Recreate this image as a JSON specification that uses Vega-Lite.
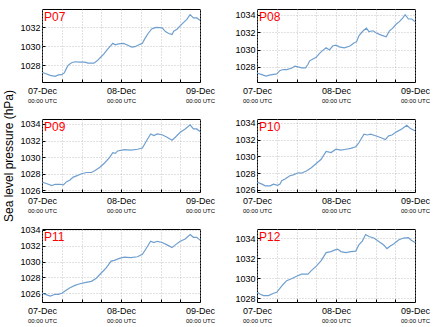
{
"$schema": "https://vega.github.io/schema/vega-lite/v6.json",
"padding": {"left": 2, "top": 8, "right": 0, "bottom": 0},
"autosize": {"type": "pad"},
"config": {
  "font": "Liberation Sans",
  "view": {"stroke": "#000", "strokeWidth": 1},
  "axis": {"labelFont": "Liberation Sans", "labelFontSize": 9, "labelColor": "#000", "grid": true, "gridColor": "#b4b4b4", "gridDash": [1, 2], "gridWidth": 0.8, "tickColor": "#000", "tickSize": -3, "domain": false, "labelFlush": false, "labelBound": false, "labelOverlap": false, "titleFont": "Liberation Sans", "titleFontSize": 12, "titleFontWeight": "normal", "titleColor": "#000"},
  "axisY": {"labelPadding": 5, "format": "d"},
  "axisX": {"labelPadding": 7},
  "text": {"align": "left", "baseline": "alphabetic", "dx": 2, "dy": 12, "color": "#ff0000", "fontSize": 12, "font": "Liberation Sans"},
  "line": {"color": "#6f9fcf", "strokeWidth": 1.2}
},
"datasets": {"pres": [
{"s":"P07","t":"2013-12-07T00:00Z","p":1027.24},{"s":"P07","t":"2013-12-07T01:00Z","p":1027.1},{"s":"P07","t":"2013-12-07T02:30Z","p":1026.9},{"s":"P07","t":"2013-12-07T04:00Z","p":1026.8},{"s":"P07","t":"2013-12-07T05:00Z","p":1026.95},{"s":"P07","t":"2013-12-07T06:00Z","p":1026.98},{"s":"P07","t":"2013-12-07T06:45Z","p":1027.16},{"s":"P07","t":"2013-12-07T07:30Z","p":1027.7},{"s":"P07","t":"2013-12-07T08:00Z","p":1028.0},{"s":"P07","t":"2013-12-07T09:00Z","p":1028.25},{"s":"P07","t":"2013-12-07T10:00Z","p":1028.35},{"s":"P07","t":"2013-12-07T11:30Z","p":1028.3},{"s":"P07","t":"2013-12-07T13:00Z","p":1028.3},{"s":"P07","t":"2013-12-07T14:00Z","p":1028.2},{"s":"P07","t":"2013-12-07T15:45Z","p":1028.2},{"s":"P07","t":"2013-12-07T16:45Z","p":1028.45},{"s":"P07","t":"2013-12-07T17:45Z","p":1028.8},{"s":"P07","t":"2013-12-07T18:45Z","p":1029.15},{"s":"P07","t":"2013-12-07T19:45Z","p":1029.6},{"s":"P07","t":"2013-12-07T20:45Z","p":1030.0},{"s":"P07","t":"2013-12-07T21:30Z","p":1030.3},{"s":"P07","t":"2013-12-07T22:15Z","p":1030.15},{"s":"P07","t":"2013-12-07T23:15Z","p":1030.25},{"s":"P07","t":"2013-12-08T00:45Z","p":1030.3},{"s":"P07","t":"2013-12-08T01:45Z","p":1030.15},{"s":"P07","t":"2013-12-08T03:15Z","p":1029.9},{"s":"P07","t":"2013-12-08T04:15Z","p":1029.95},{"s":"P07","t":"2013-12-08T05:45Z","p":1030.2},{"s":"P07","t":"2013-12-08T06:30Z","p":1030.3},{"s":"P07","t":"2013-12-08T07:15Z","p":1030.8},{"s":"P07","t":"2013-12-08T08:15Z","p":1031.35},{"s":"P07","t":"2013-12-08T09:15Z","p":1031.8},{"s":"P07","t":"2013-12-08T09:45Z","p":1031.9},{"s":"P07","t":"2013-12-08T10:45Z","p":1032.0},{"s":"P07","t":"2013-12-08T12:30Z","p":1031.95},{"s":"P07","t":"2013-12-08T13:30Z","p":1031.55},{"s":"P07","t":"2013-12-08T14:30Z","p":1031.35},{"s":"P07","t":"2013-12-08T15:30Z","p":1031.25},{"s":"P07","t":"2013-12-08T16:00Z","p":1031.6},{"s":"P07","t":"2013-12-08T17:00Z","p":1031.8},{"s":"P07","t":"2013-12-08T18:30Z","p":1032.35},{"s":"P07","t":"2013-12-08T20:00Z","p":1032.85},{"s":"P07","t":"2013-12-08T21:00Z","p":1033.35},{"s":"P07","t":"2013-12-08T22:00Z","p":1033.0},{"s":"P07","t":"2013-12-08T23:00Z","p":1033.0},{"s":"P07","t":"2013-12-09T00:00Z","p":1032.75},
{"s":"P08","t":"2013-12-07T00:00Z","p":1027.3},{"s":"P08","t":"2013-12-07T01:15Z","p":1027.15},{"s":"P08","t":"2013-12-07T02:45Z","p":1026.95},{"s":"P08","t":"2013-12-07T03:45Z","p":1027.05},{"s":"P08","t":"2013-12-07T05:00Z","p":1027.15},{"s":"P08","t":"2013-12-07T06:00Z","p":1027.2},{"s":"P08","t":"2013-12-07T07:00Z","p":1027.6},{"s":"P08","t":"2013-12-07T08:00Z","p":1027.7},{"s":"P08","t":"2013-12-07T09:00Z","p":1027.7},{"s":"P08","t":"2013-12-07T10:30Z","p":1027.85},{"s":"P08","t":"2013-12-07T11:30Z","p":1028.1},{"s":"P08","t":"2013-12-07T12:30Z","p":1028.0},{"s":"P08","t":"2013-12-07T13:30Z","p":1027.9},{"s":"P08","t":"2013-12-07T14:45Z","p":1027.9},{"s":"P08","t":"2013-12-07T15:30Z","p":1028.3},{"s":"P08","t":"2013-12-07T16:00Z","p":1028.7},{"s":"P08","t":"2013-12-07T17:00Z","p":1028.9},{"s":"P08","t":"2013-12-07T18:00Z","p":1029.1},{"s":"P08","t":"2013-12-07T19:00Z","p":1029.55},{"s":"P08","t":"2013-12-07T20:00Z","p":1029.9},{"s":"P08","t":"2013-12-07T21:00Z","p":1030.2},{"s":"P08","t":"2013-12-07T22:00Z","p":1029.95},{"s":"P08","t":"2013-12-07T23:00Z","p":1030.4},{"s":"P08","t":"2013-12-08T00:00Z","p":1030.5},{"s":"P08","t":"2013-12-08T01:00Z","p":1030.3},{"s":"P08","t":"2013-12-08T02:30Z","p":1030.2},{"s":"P08","t":"2013-12-08T04:15Z","p":1030.4},{"s":"P08","t":"2013-12-08T05:15Z","p":1030.7},{"s":"P08","t":"2013-12-08T06:15Z","p":1030.9},{"s":"P08","t":"2013-12-08T07:00Z","p":1031.6},{"s":"P08","t":"2013-12-08T08:15Z","p":1032.15},{"s":"P08","t":"2013-12-08T09:15Z","p":1032.45},{"s":"P08","t":"2013-12-08T10:00Z","p":1032.05},{"s":"P08","t":"2013-12-08T11:15Z","p":1032.15},{"s":"P08","t":"2013-12-08T12:15Z","p":1031.9},{"s":"P08","t":"2013-12-08T13:45Z","p":1031.65},{"s":"P08","t":"2013-12-08T15:15Z","p":1031.45},{"s":"P08","t":"2013-12-08T16:15Z","p":1032.15},{"s":"P08","t":"2013-12-08T17:15Z","p":1032.45},{"s":"P08","t":"2013-12-08T18:15Z","p":1032.9},{"s":"P08","t":"2013-12-08T19:15Z","p":1033.2},{"s":"P08","t":"2013-12-08T20:15Z","p":1033.6},{"s":"P08","t":"2013-12-08T21:00Z","p":1034.0},{"s":"P08","t":"2013-12-08T22:00Z","p":1033.5},{"s":"P08","t":"2013-12-08T23:00Z","p":1033.5},{"s":"P08","t":"2013-12-09T00:00Z","p":1033.2},
{"s":"P09","t":"2013-12-07T00:00Z","p":1027.0},{"s":"P09","t":"2013-12-07T01:30Z","p":1026.8},{"s":"P09","t":"2013-12-07T03:00Z","p":1026.57},{"s":"P09","t":"2013-12-07T04:00Z","p":1026.73},{"s":"P09","t":"2013-12-07T05:30Z","p":1026.73},{"s":"P09","t":"2013-12-07T06:30Z","p":1026.65},{"s":"P09","t":"2013-12-07T07:30Z","p":1027.05},{"s":"P09","t":"2013-12-07T08:30Z","p":1027.25},{"s":"P09","t":"2013-12-07T09:30Z","p":1027.6},{"s":"P09","t":"2013-12-07T10:30Z","p":1027.75},{"s":"P09","t":"2013-12-07T12:00Z","p":1028.0},{"s":"P09","t":"2013-12-07T13:30Z","p":1028.15},{"s":"P09","t":"2013-12-07T15:00Z","p":1028.15},{"s":"P09","t":"2013-12-07T16:00Z","p":1028.35},{"s":"P09","t":"2013-12-07T17:30Z","p":1028.75},{"s":"P09","t":"2013-12-07T19:00Z","p":1029.3},{"s":"P09","t":"2013-12-07T20:30Z","p":1029.95},{"s":"P09","t":"2013-12-07T21:30Z","p":1030.55},{"s":"P09","t":"2013-12-07T22:15Z","p":1030.45},{"s":"P09","t":"2013-12-07T23:00Z","p":1030.75},{"s":"P09","t":"2013-12-08T01:00Z","p":1030.9},{"s":"P09","t":"2013-12-08T03:00Z","p":1030.85},{"s":"P09","t":"2013-12-08T05:00Z","p":1030.95},{"s":"P09","t":"2013-12-08T06:30Z","p":1031.1},{"s":"P09","t":"2013-12-08T07:30Z","p":1031.8},{"s":"P09","t":"2013-12-08T09:00Z","p":1032.8},{"s":"P09","t":"2013-12-08T10:00Z","p":1032.6},{"s":"P09","t":"2013-12-08T11:00Z","p":1032.8},{"s":"P09","t":"2013-12-08T12:30Z","p":1032.7},{"s":"P09","t":"2013-12-08T14:00Z","p":1032.4},{"s":"P09","t":"2013-12-08T15:30Z","p":1032.05},{"s":"P09","t":"2013-12-08T16:30Z","p":1032.4},{"s":"P09","t":"2013-12-08T18:00Z","p":1033.0},{"s":"P09","t":"2013-12-08T19:30Z","p":1033.4},{"s":"P09","t":"2013-12-08T21:00Z","p":1033.9},{"s":"P09","t":"2013-12-08T22:00Z","p":1033.4},{"s":"P09","t":"2013-12-08T23:00Z","p":1033.4},{"s":"P09","t":"2013-12-09T00:00Z","p":1033.1},
{"s":"P10","t":"2013-12-07T00:00Z","p":1026.95},{"s":"P10","t":"2013-12-07T01:30Z","p":1026.7},{"s":"P10","t":"2013-12-07T02:30Z","p":1026.5},{"s":"P10","t":"2013-12-07T04:00Z","p":1026.5},{"s":"P10","t":"2013-12-07T05:00Z","p":1026.7},{"s":"P10","t":"2013-12-07T06:15Z","p":1026.55},{"s":"P10","t":"2013-12-07T07:00Z","p":1026.7},{"s":"P10","t":"2013-12-07T07:30Z","p":1027.1},{"s":"P10","t":"2013-12-07T08:30Z","p":1027.3},{"s":"P10","t":"2013-12-07T10:00Z","p":1027.7},{"s":"P10","t":"2013-12-07T11:00Z","p":1027.8},{"s":"P10","t":"2013-12-07T12:30Z","p":1028.05},{"s":"P10","t":"2013-12-07T13:30Z","p":1028.0},{"s":"P10","t":"2013-12-07T15:00Z","p":1028.25},{"s":"P10","t":"2013-12-07T16:30Z","p":1028.65},{"s":"P10","t":"2013-12-07T18:00Z","p":1029.15},{"s":"P10","t":"2013-12-07T19:30Z","p":1029.65},{"s":"P10","t":"2013-12-07T21:00Z","p":1030.6},{"s":"P10","t":"2013-12-07T22:30Z","p":1030.45},{"s":"P10","t":"2013-12-08T00:00Z","p":1030.85},{"s":"P10","t":"2013-12-08T01:30Z","p":1030.75},{"s":"P10","t":"2013-12-08T03:00Z","p":1030.85},{"s":"P10","t":"2013-12-08T04:30Z","p":1030.95},{"s":"P10","t":"2013-12-08T06:00Z","p":1031.15},{"s":"P10","t":"2013-12-08T07:00Z","p":1031.65},{"s":"P10","t":"2013-12-08T08:30Z","p":1032.65},{"s":"P10","t":"2013-12-08T09:30Z","p":1032.55},{"s":"P10","t":"2013-12-08T10:30Z","p":1032.65},{"s":"P10","t":"2013-12-08T12:00Z","p":1032.45},{"s":"P10","t":"2013-12-08T13:30Z","p":1032.25},{"s":"P10","t":"2013-12-08T15:00Z","p":1032.0},{"s":"P10","t":"2013-12-08T16:00Z","p":1032.45},{"s":"P10","t":"2013-12-08T17:00Z","p":1032.55},{"s":"P10","t":"2013-12-08T18:30Z","p":1032.95},{"s":"P10","t":"2013-12-08T20:00Z","p":1033.25},{"s":"P10","t":"2013-12-08T21:30Z","p":1033.7},{"s":"P10","t":"2013-12-08T22:30Z","p":1033.35},{"s":"P10","t":"2013-12-08T23:30Z","p":1033.15},{"s":"P10","t":"2013-12-09T00:00Z","p":1033.05},
{"s":"P11","t":"2013-12-07T00:00Z","p":1026.0},{"s":"P11","t":"2013-12-07T01:30Z","p":1025.8},{"s":"P11","t":"2013-12-07T02:30Z","p":1025.65},{"s":"P11","t":"2013-12-07T04:00Z","p":1025.87},{"s":"P11","t":"2013-12-07T05:00Z","p":1025.87},{"s":"P11","t":"2013-12-07T06:00Z","p":1026.0},{"s":"P11","t":"2013-12-07T07:00Z","p":1026.3},{"s":"P11","t":"2013-12-07T08:30Z","p":1026.7},{"s":"P11","t":"2013-12-07T10:00Z","p":1027.0},{"s":"P11","t":"2013-12-07T11:30Z","p":1027.2},{"s":"P11","t":"2013-12-07T13:00Z","p":1027.35},{"s":"P11","t":"2013-12-07T15:00Z","p":1027.5},{"s":"P11","t":"2013-12-07T16:30Z","p":1027.9},{"s":"P11","t":"2013-12-07T18:00Z","p":1028.55},{"s":"P11","t":"2013-12-07T19:30Z","p":1029.2},{"s":"P11","t":"2013-12-07T21:00Z","p":1030.05},{"s":"P11","t":"2013-12-07T22:00Z","p":1030.15},{"s":"P11","t":"2013-12-07T23:30Z","p":1030.4},{"s":"P11","t":"2013-12-08T01:00Z","p":1030.55},{"s":"P11","t":"2013-12-08T03:00Z","p":1030.5},{"s":"P11","t":"2013-12-08T05:00Z","p":1030.6},{"s":"P11","t":"2013-12-08T06:30Z","p":1030.9},{"s":"P11","t":"2013-12-08T07:30Z","p":1031.55},{"s":"P11","t":"2013-12-08T09:00Z","p":1032.55},{"s":"P11","t":"2013-12-08T10:00Z","p":1032.4},{"s":"P11","t":"2013-12-08T11:00Z","p":1032.55},{"s":"P11","t":"2013-12-08T12:30Z","p":1032.4},{"s":"P11","t":"2013-12-08T14:00Z","p":1032.1},{"s":"P11","t":"2013-12-08T15:30Z","p":1031.75},{"s":"P11","t":"2013-12-08T16:30Z","p":1032.1},{"s":"P11","t":"2013-12-08T18:00Z","p":1032.55},{"s":"P11","t":"2013-12-08T19:30Z","p":1032.85},{"s":"P11","t":"2013-12-08T21:00Z","p":1033.4},{"s":"P11","t":"2013-12-08T22:00Z","p":1033.05},{"s":"P11","t":"2013-12-08T23:00Z","p":1033.05},{"s":"P11","t":"2013-12-09T00:00Z","p":1032.7},
{"s":"P12","t":"2013-12-07T00:00Z","p":1028.6},{"s":"P12","t":"2013-12-07T01:00Z","p":1028.4},{"s":"P12","t":"2013-12-07T02:00Z","p":1028.27},{"s":"P12","t":"2013-12-07T03:30Z","p":1028.27},{"s":"P12","t":"2013-12-07T05:00Z","p":1028.5},{"s":"P12","t":"2013-12-07T06:00Z","p":1028.6},{"s":"P12","t":"2013-12-07T07:00Z","p":1029.0},{"s":"P12","t":"2013-12-07T08:00Z","p":1029.4},{"s":"P12","t":"2013-12-07T09:00Z","p":1029.75},{"s":"P12","t":"2013-12-07T10:30Z","p":1029.95},{"s":"P12","t":"2013-12-07T12:00Z","p":1030.2},{"s":"P12","t":"2013-12-07T13:30Z","p":1030.4},{"s":"P12","t":"2013-12-07T15:30Z","p":1030.4},{"s":"P12","t":"2013-12-07T16:30Z","p":1030.75},{"s":"P12","t":"2013-12-07T18:00Z","p":1031.2},{"s":"P12","t":"2013-12-07T19:30Z","p":1031.75},{"s":"P12","t":"2013-12-07T21:00Z","p":1032.55},{"s":"P12","t":"2013-12-07T22:30Z","p":1032.65},{"s":"P12","t":"2013-12-07T23:30Z","p":1032.8},{"s":"P12","t":"2013-12-08T00:30Z","p":1032.9},{"s":"P12","t":"2013-12-08T01:30Z","p":1032.65},{"s":"P12","t":"2013-12-08T03:00Z","p":1032.55},{"s":"P12","t":"2013-12-08T04:30Z","p":1032.65},{"s":"P12","t":"2013-12-08T06:00Z","p":1032.7},{"s":"P12","t":"2013-12-08T07:00Z","p":1033.35},{"s":"P12","t":"2013-12-08T08:00Z","p":1033.7},{"s":"P12","t":"2013-12-08T09:00Z","p":1034.35},{"s":"P12","t":"2013-12-08T10:00Z","p":1034.15},{"s":"P12","t":"2013-12-08T11:30Z","p":1034.0},{"s":"P12","t":"2013-12-08T13:00Z","p":1033.65},{"s":"P12","t":"2013-12-08T14:30Z","p":1033.3},{"s":"P12","t":"2013-12-08T15:30Z","p":1032.95},{"s":"P12","t":"2013-12-08T16:30Z","p":1033.2},{"s":"P12","t":"2013-12-08T17:30Z","p":1033.4},{"s":"P12","t":"2013-12-08T19:00Z","p":1033.8},{"s":"P12","t":"2013-12-08T20:30Z","p":1034.0},{"s":"P12","t":"2013-12-08T22:00Z","p":1034.05},{"s":"P12","t":"2013-12-08T22:45Z","p":1033.8},{"s":"P12","t":"2013-12-09T00:00Z","p":1033.55}
]},
"columns": 2,
"spacing": {"row": 37, "column": 57},
"bounds": "flush",
"concat": [
{"width": 158, "height": 73, "data": {"name": "pres"}, "transform": [{"filter": "datum.s === 'P07'"}],
 "layer": [
  {"mark": "line",
   "encoding": {
    "x": {"field": "t", "type": "temporal", "scale": {"type": "utc", "domain": [{"year": 2013, "month": 12, "date": 7, "utc": true}, {"year": 2013, "month": 12, "date": 9, "utc": true}]},
     "axis": {"title": null, "orient": "bottom", "values": [{"year": 2013, "month": 12, "date": 7, "hours": 0, "utc": true}, {"year": 2013, "month": 12, "date": 7, "hours": 6, "utc": true}, {"year": 2013, "month": 12, "date": 7, "hours": 12, "utc": true}, {"year": 2013, "month": 12, "date": 7, "hours": 18, "utc": true}, {"year": 2013, "month": 12, "date": 8, "hours": 0, "utc": true}, {"year": 2013, "month": 12, "date": 8, "hours": 6, "utc": true}, {"year": 2013, "month": 12, "date": 8, "hours": 12, "utc": true}, {"year": 2013, "month": 12, "date": 8, "hours": 18, "utc": true}, {"year": 2013, "month": 12, "date": 9, "hours": 0, "utc": true}], "labelExpr": "utchours(datum.value) === 0 ? utcFormat(datum.value, '%d-%b') : ''"}},
    "y": {"field": "p", "type": "quantitative", "scale": {"domain": [1026.2, 1033.95], "nice": false, "zero": false}, "axis": {"title": null, "values": [1028, 1030, 1032]}}}},
  {"mark": {"type": "rule", "opacity": 0},
   "encoding": {"x": {"field": "t", "type": "temporal", "scale": {"type": "utc", "domain": [{"year": 2013, "month": 12, "date": 7, "utc": true}, {"year": 2013, "month": 12, "date": 9, "utc": true}]},
     "axis": {"title": null, "orient": "bottom", "grid": false, "ticks": false, "labelFontSize": 6, "labelPadding": 15, "values": [{"year": 2013, "month": 12, "date": 7, "utc": true}, {"year": 2013, "month": 12, "date": 8, "utc": true}, {"year": 2013, "month": 12, "date": 9, "utc": true}], "labelExpr": "utcFormat(datum.value, '%H:%M') + ' UTC'"}}}},
  {"transform": [{"aggregate": [{"op": "count", "as": "n"}], "groupby": ["s"]}],
   "mark": "text",
   "encoding": {"x": {"datum": {"year": 2013, "month": 12, "date": 7, "utc": true}, "type": "temporal", "axis": null}, "y": {"datum": 1033.95, "type": "quantitative", "axis": null}, "text": {"field": "s"}}}
 ],
 "resolve": {"axis": {"x": "independent", "y": "independent"}}},
{"width": 158, "height": 73, "data": {"name": "pres"}, "transform": [{"filter": "datum.s === 'P08'"}],
 "layer": [
  {"mark": "line",
   "encoding": {
    "x": {"field": "t", "type": "temporal", "scale": {"type": "utc", "domain": [{"year": 2013, "month": 12, "date": 7, "utc": true}, {"year": 2013, "month": 12, "date": 9, "utc": true}]},
     "axis": {"title": null, "orient": "bottom", "values": [{"year": 2013, "month": 12, "date": 7, "hours": 0, "utc": true}, {"year": 2013, "month": 12, "date": 7, "hours": 6, "utc": true}, {"year": 2013, "month": 12, "date": 7, "hours": 12, "utc": true}, {"year": 2013, "month": 12, "date": 7, "hours": 18, "utc": true}, {"year": 2013, "month": 12, "date": 8, "hours": 0, "utc": true}, {"year": 2013, "month": 12, "date": 8, "hours": 6, "utc": true}, {"year": 2013, "month": 12, "date": 8, "hours": 12, "utc": true}, {"year": 2013, "month": 12, "date": 8, "hours": 18, "utc": true}, {"year": 2013, "month": 12, "date": 9, "hours": 0, "utc": true}], "labelExpr": "utchours(datum.value) === 0 ? utcFormat(datum.value, '%d-%b') : ''"}},
    "y": {"field": "p", "type": "quantitative", "scale": {"domain": [1026.27, 1034.65], "nice": false, "zero": false}, "axis": {"title": null, "values": [1028, 1030, 1032, 1034]}}}},
  {"mark": {"type": "rule", "opacity": 0},
   "encoding": {"x": {"field": "t", "type": "temporal", "scale": {"type": "utc", "domain": [{"year": 2013, "month": 12, "date": 7, "utc": true}, {"year": 2013, "month": 12, "date": 9, "utc": true}]},
     "axis": {"title": null, "orient": "bottom", "grid": false, "ticks": false, "labelFontSize": 6, "labelPadding": 15, "values": [{"year": 2013, "month": 12, "date": 7, "utc": true}, {"year": 2013, "month": 12, "date": 8, "utc": true}, {"year": 2013, "month": 12, "date": 9, "utc": true}], "labelExpr": "utcFormat(datum.value, '%H:%M') + ' UTC'"}}}},
  {"transform": [{"aggregate": [{"op": "count", "as": "n"}], "groupby": ["s"]}],
   "mark": "text",
   "encoding": {"x": {"datum": {"year": 2013, "month": 12, "date": 7, "utc": true}, "type": "temporal", "axis": null}, "y": {"datum": 1034.65, "type": "quantitative", "axis": null}, "text": {"field": "s"}}}
 ],
 "resolve": {"axis": {"x": "independent", "y": "independent"}}},
{"width": 158, "height": 73, "data": {"name": "pres"}, "transform": [{"filter": "datum.s === 'P09'"}],
 "layer": [
  {"mark": "line",
   "encoding": {
    "x": {"field": "t", "type": "temporal", "scale": {"type": "utc", "domain": [{"year": 2013, "month": 12, "date": 7, "utc": true}, {"year": 2013, "month": 12, "date": 9, "utc": true}]},
     "axis": {"title": null, "orient": "bottom", "values": [{"year": 2013, "month": 12, "date": 7, "hours": 0, "utc": true}, {"year": 2013, "month": 12, "date": 7, "hours": 6, "utc": true}, {"year": 2013, "month": 12, "date": 7, "hours": 12, "utc": true}, {"year": 2013, "month": 12, "date": 7, "hours": 18, "utc": true}, {"year": 2013, "month": 12, "date": 8, "hours": 0, "utc": true}, {"year": 2013, "month": 12, "date": 8, "hours": 6, "utc": true}, {"year": 2013, "month": 12, "date": 8, "hours": 12, "utc": true}, {"year": 2013, "month": 12, "date": 8, "hours": 18, "utc": true}, {"year": 2013, "month": 12, "date": 9, "hours": 0, "utc": true}], "labelExpr": "utchours(datum.value) === 0 ? utcFormat(datum.value, '%d-%b') : ''"}},
    "y": {"field": "p", "type": "quantitative", "scale": {"domain": [1025.8, 1034.6], "nice": false, "zero": false}, "axis": {"title": "Sea level pressure (hPa)", "titlePadding": 4, "values": [1026, 1028, 1030, 1032, 1034]}}}},
  {"mark": {"type": "rule", "opacity": 0},
   "encoding": {"x": {"field": "t", "type": "temporal", "scale": {"type": "utc", "domain": [{"year": 2013, "month": 12, "date": 7, "utc": true}, {"year": 2013, "month": 12, "date": 9, "utc": true}]},
     "axis": {"title": null, "orient": "bottom", "grid": false, "ticks": false, "labelFontSize": 6, "labelPadding": 15, "values": [{"year": 2013, "month": 12, "date": 7, "utc": true}, {"year": 2013, "month": 12, "date": 8, "utc": true}, {"year": 2013, "month": 12, "date": 9, "utc": true}], "labelExpr": "utcFormat(datum.value, '%H:%M') + ' UTC'"}}}},
  {"transform": [{"aggregate": [{"op": "count", "as": "n"}], "groupby": ["s"]}],
   "mark": "text",
   "encoding": {"x": {"datum": {"year": 2013, "month": 12, "date": 7, "utc": true}, "type": "temporal", "axis": null}, "y": {"datum": 1034.6, "type": "quantitative", "axis": null}, "text": {"field": "s"}}}
 ],
 "resolve": {"axis": {"x": "independent", "y": "independent"}}},
{"width": 158, "height": 73, "data": {"name": "pres"}, "transform": [{"filter": "datum.s === 'P10'"}],
 "layer": [
  {"mark": "line",
   "encoding": {
    "x": {"field": "t", "type": "temporal", "scale": {"type": "utc", "domain": [{"year": 2013, "month": 12, "date": 7, "utc": true}, {"year": 2013, "month": 12, "date": 9, "utc": true}]},
     "axis": {"title": null, "orient": "bottom", "values": [{"year": 2013, "month": 12, "date": 7, "hours": 0, "utc": true}, {"year": 2013, "month": 12, "date": 7, "hours": 6, "utc": true}, {"year": 2013, "month": 12, "date": 7, "hours": 12, "utc": true}, {"year": 2013, "month": 12, "date": 7, "hours": 18, "utc": true}, {"year": 2013, "month": 12, "date": 8, "hours": 0, "utc": true}, {"year": 2013, "month": 12, "date": 8, "hours": 6, "utc": true}, {"year": 2013, "month": 12, "date": 8, "hours": 12, "utc": true}, {"year": 2013, "month": 12, "date": 8, "hours": 18, "utc": true}, {"year": 2013, "month": 12, "date": 9, "hours": 0, "utc": true}], "labelExpr": "utchours(datum.value) === 0 ? utcFormat(datum.value, '%d-%b') : ''"}},
    "y": {"field": "p", "type": "quantitative", "scale": {"domain": [1025.76, 1034.45], "nice": false, "zero": false}, "axis": {"title": null, "values": [1026, 1028, 1030, 1032, 1034]}}}},
  {"mark": {"type": "rule", "opacity": 0},
   "encoding": {"x": {"field": "t", "type": "temporal", "scale": {"type": "utc", "domain": [{"year": 2013, "month": 12, "date": 7, "utc": true}, {"year": 2013, "month": 12, "date": 9, "utc": true}]},
     "axis": {"title": null, "orient": "bottom", "grid": false, "ticks": false, "labelFontSize": 6, "labelPadding": 15, "values": [{"year": 2013, "month": 12, "date": 7, "utc": true}, {"year": 2013, "month": 12, "date": 8, "utc": true}, {"year": 2013, "month": 12, "date": 9, "utc": true}], "labelExpr": "utcFormat(datum.value, '%H:%M') + ' UTC'"}}}},
  {"transform": [{"aggregate": [{"op": "count", "as": "n"}], "groupby": ["s"]}],
   "mark": "text",
   "encoding": {"x": {"datum": {"year": 2013, "month": 12, "date": 7, "utc": true}, "type": "temporal", "axis": null}, "y": {"datum": 1034.45, "type": "quantitative", "axis": null}, "text": {"field": "s"}}}
 ],
 "resolve": {"axis": {"x": "independent", "y": "independent"}}},
{"width": 158, "height": 73, "data": {"name": "pres"}, "transform": [{"filter": "datum.s === 'P11'"}],
 "layer": [
  {"mark": "line",
   "encoding": {
    "x": {"field": "t", "type": "temporal", "scale": {"type": "utc", "domain": [{"year": 2013, "month": 12, "date": 7, "utc": true}, {"year": 2013, "month": 12, "date": 9, "utc": true}]},
     "axis": {"title": null, "orient": "bottom", "values": [{"year": 2013, "month": 12, "date": 7, "hours": 0, "utc": true}, {"year": 2013, "month": 12, "date": 7, "hours": 6, "utc": true}, {"year": 2013, "month": 12, "date": 7, "hours": 12, "utc": true}, {"year": 2013, "month": 12, "date": 7, "hours": 18, "utc": true}, {"year": 2013, "month": 12, "date": 8, "hours": 0, "utc": true}, {"year": 2013, "month": 12, "date": 8, "hours": 6, "utc": true}, {"year": 2013, "month": 12, "date": 8, "hours": 12, "utc": true}, {"year": 2013, "month": 12, "date": 8, "hours": 18, "utc": true}, {"year": 2013, "month": 12, "date": 9, "hours": 0, "utc": true}], "labelExpr": "utchours(datum.value) === 0 ? utcFormat(datum.value, '%d-%b') : ''"}},
    "y": {"field": "p", "type": "quantitative", "scale": {"domain": [1024.9, 1034.1], "nice": false, "zero": false}, "axis": {"title": null, "values": [1026, 1028, 1030, 1032, 1034]}}}},
  {"mark": {"type": "rule", "opacity": 0},
   "encoding": {"x": {"field": "t", "type": "temporal", "scale": {"type": "utc", "domain": [{"year": 2013, "month": 12, "date": 7, "utc": true}, {"year": 2013, "month": 12, "date": 9, "utc": true}]},
     "axis": {"title": null, "orient": "bottom", "grid": false, "ticks": false, "labelFontSize": 6, "labelPadding": 15, "values": [{"year": 2013, "month": 12, "date": 7, "utc": true}, {"year": 2013, "month": 12, "date": 8, "utc": true}, {"year": 2013, "month": 12, "date": 9, "utc": true}], "labelExpr": "utcFormat(datum.value, '%H:%M') + ' UTC'"}}}},
  {"transform": [{"aggregate": [{"op": "count", "as": "n"}], "groupby": ["s"]}],
   "mark": "text",
   "encoding": {"x": {"datum": {"year": 2013, "month": 12, "date": 7, "utc": true}, "type": "temporal", "axis": null}, "y": {"datum": 1034.1, "type": "quantitative", "axis": null}, "text": {"field": "s"}}}
 ],
 "resolve": {"axis": {"x": "independent", "y": "independent"}}},
{"width": 158, "height": 73, "data": {"name": "pres"}, "transform": [{"filter": "datum.s === 'P12'"}],
 "layer": [
  {"mark": "line",
   "encoding": {
    "x": {"field": "t", "type": "temporal", "scale": {"type": "utc", "domain": [{"year": 2013, "month": 12, "date": 7, "utc": true}, {"year": 2013, "month": 12, "date": 9, "utc": true}]},
     "axis": {"title": null, "orient": "bottom", "values": [{"year": 2013, "month": 12, "date": 7, "hours": 0, "utc": true}, {"year": 2013, "month": 12, "date": 7, "hours": 6, "utc": true}, {"year": 2013, "month": 12, "date": 7, "hours": 12, "utc": true}, {"year": 2013, "month": 12, "date": 7, "hours": 18, "utc": true}, {"year": 2013, "month": 12, "date": 8, "hours": 0, "utc": true}, {"year": 2013, "month": 12, "date": 8, "hours": 6, "utc": true}, {"year": 2013, "month": 12, "date": 8, "hours": 12, "utc": true}, {"year": 2013, "month": 12, "date": 8, "hours": 18, "utc": true}, {"year": 2013, "month": 12, "date": 9, "hours": 0, "utc": true}], "labelExpr": "utchours(datum.value) === 0 ? utcFormat(datum.value, '%d-%b') : ''"}},
    "y": {"field": "p", "type": "quantitative", "scale": {"domain": [1027.63, 1034.9], "nice": false, "zero": false}, "axis": {"title": null, "values": [1028, 1030, 1032, 1034]}}}},
  {"mark": {"type": "rule", "opacity": 0},
   "encoding": {"x": {"field": "t", "type": "temporal", "scale": {"type": "utc", "domain": [{"year": 2013, "month": 12, "date": 7, "utc": true}, {"year": 2013, "month": 12, "date": 9, "utc": true}]},
     "axis": {"title": null, "orient": "bottom", "grid": false, "ticks": false, "labelFontSize": 6, "labelPadding": 15, "values": [{"year": 2013, "month": 12, "date": 7, "utc": true}, {"year": 2013, "month": 12, "date": 8, "utc": true}, {"year": 2013, "month": 12, "date": 9, "utc": true}], "labelExpr": "utcFormat(datum.value, '%H:%M') + ' UTC'"}}}},
  {"transform": [{"aggregate": [{"op": "count", "as": "n"}], "groupby": ["s"]}],
   "mark": "text",
   "encoding": {"x": {"datum": {"year": 2013, "month": 12, "date": 7, "utc": true}, "type": "temporal", "axis": null}, "y": {"datum": 1034.9, "type": "quantitative", "axis": null}, "text": {"field": "s"}}}
 ],
 "resolve": {"axis": {"x": "independent", "y": "independent"}}}
]
}
